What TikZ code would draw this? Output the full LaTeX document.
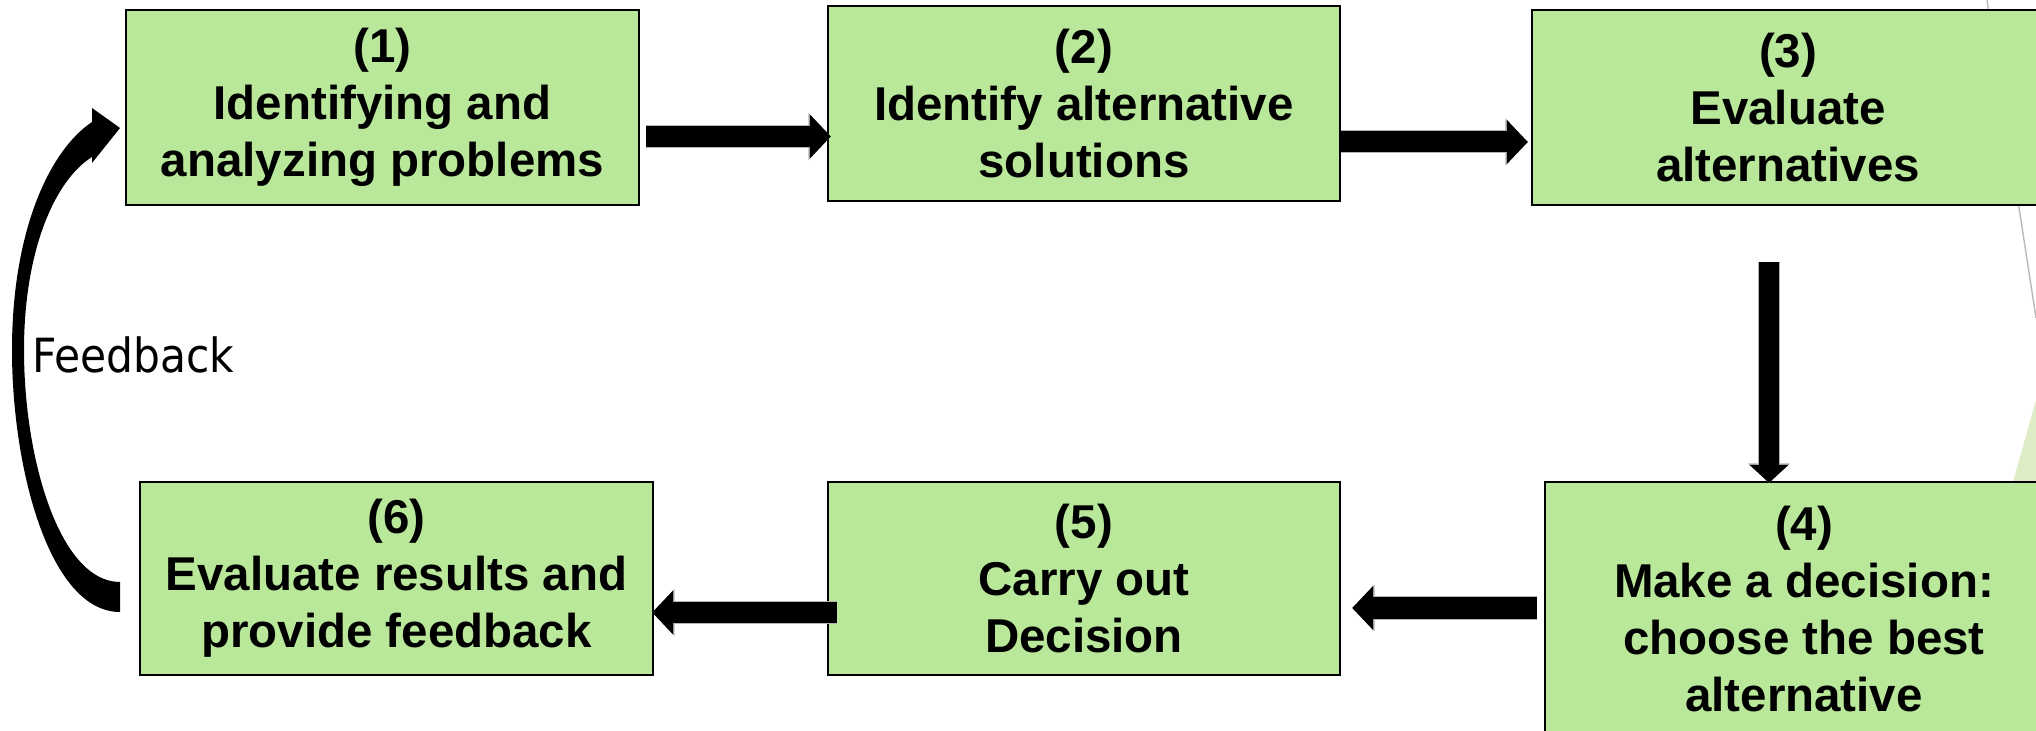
\documentclass[tikz,border=0pt]{standalone}
\usepackage{fontspec}
\setmainfont{Liberation Sans}
\newfontfamily\fbfont{DejaVu Sans Condensed}
\usetikzlibrary{arrows.meta,calc}
\definecolor{boxgreen}{RGB}{185,232,154}
\definecolor{trigreen}{RGB}{222,236,200}
\begin{document}
\begin{tikzpicture}[x=0.01cm,y=-0.01cm,
  box/.style={draw=black, line width=0.6pt, fill=boxgreen, inner sep=0pt, align=center,
    font=\fontsize{13.5}{16.2}\selectfont\bfseries},
  blockarrow/.style={black, line width=0.21cm, -{Triangle[width=0.43cm,length=0.21cm]},
    preaction={draw=gray!60, line width=0.23cm, -{Triangle[width=0.46cm,length=0.225cm]}}},
  blockarrowv/.style={black, line width=0.2cm, -{Triangle[width=0.38cm,length=0.18cm]},
    preaction={draw=gray!60, line width=0.22cm, -{Triangle[width=0.41cm,length=0.195cm]}}},
]
\useasboundingbox (0,0) rectangle (2036,731);
\clip (0,0) rectangle (2036,731);
\fill[white] (0,0) rectangle (2036,731);
% background decoration
\draw[gray!55, line width=0.4pt] (1987,0) -- (2036,318);
\fill[trigreen] (2013,482) -- (2036,400) -- (2036,482) -- cycle;
% boxes
\node[box, minimum width=5.13cm, minimum height=1.95cm] (b1) at (382.5,107.5) {(1)\\Identifying and\\analyzing problems};
\node[box, minimum width=5.12cm, minimum height=1.95cm] (b2) at (1084,103.5) {(2)\\Identify alternative\\solutions};
\node[box, minimum width=5.12cm, minimum height=1.95cm] (b3) at (1788,107.5) {(3)\\Evaluate\\alternatives};
\node[box, minimum width=5.18cm, minimum height=2.54cm] (b4) at (1804,609) {(4)\\Make a decision:\\choose the best\\alternative};
\node[box, minimum width=5.12cm, minimum height=1.93cm] (b5) at (1084,578.5) {(5)\\Carry out\\Decision};
\node[box, minimum width=5.13cm, minimum height=1.93cm] (b6) at (396.5,578.5) {(6)\\Evaluate results and\\provide feedback};
% arrows
\draw[blockarrow] ($(b1.east)+(6,29)$) -- ($(b2.west)+(4,33)$);
\draw[blockarrow] ($(b2.east)+(0,38.5)$) -- ($(b3.west)+(-3,34.5)$);
\draw[blockarrowv] ($(b3.south)+(-19,56)$) -- ($(b4.north)+(-35,2)$);
\draw[blockarrow] ($(b4.west)+(-7,-1)$) -- ($(b5.east)+(11,29.5)$);
\draw[blockarrow] ($(b5.west)+(10,34)$) -- ($(b6.east)+(-2,34)$);
% feedback arrow
\fill[black] (120,612) .. controls (50,612) and (12,470) .. (12,350)
  .. controls (12,230) and (50,150) .. (92,122) -- (92,108) -- (120,128) -- (92,163) -- (92,157)
  .. controls (55,180) and (24,250) .. (24,350)
  .. controls (24,460) and (60,582) .. (120,582) -- cycle;
\node[font=\fbfont\fontsize{13.4}{16}\selectfont, anchor=base west, inner sep=0pt] (fb) at (32,373) {Feedback};
\end{tikzpicture}
\end{document}
